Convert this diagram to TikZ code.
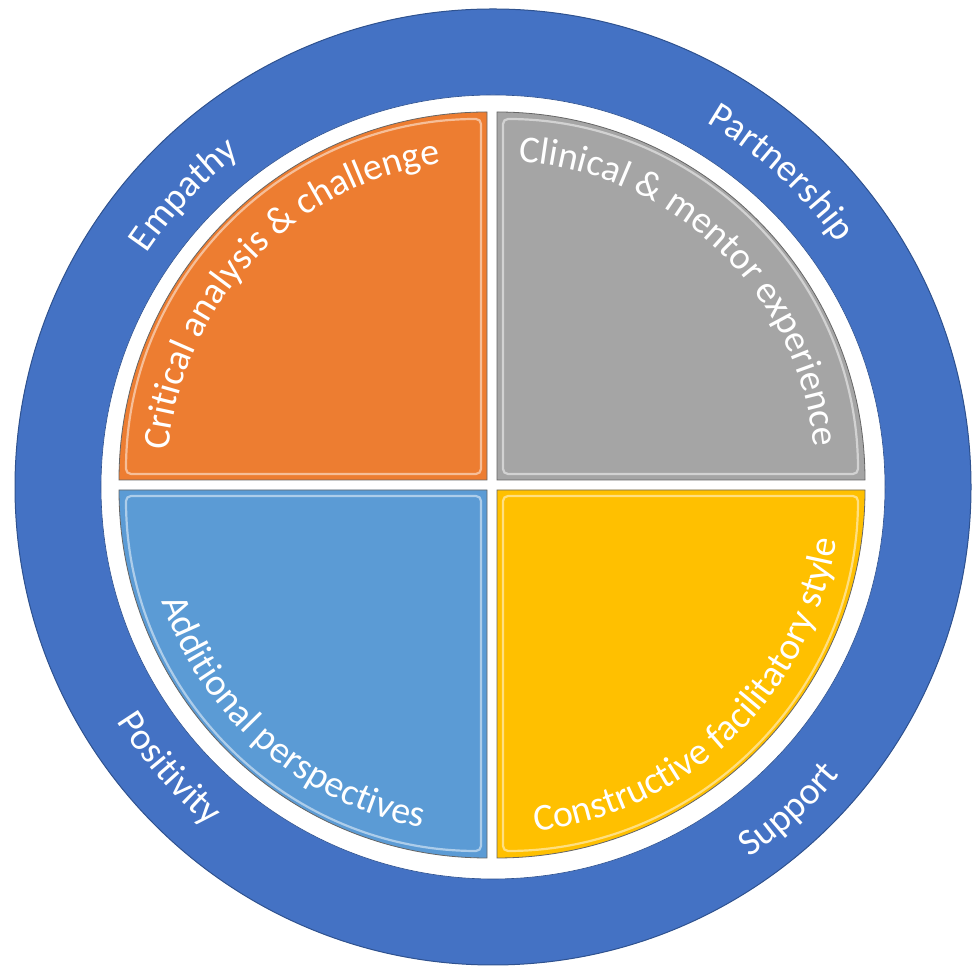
\documentclass[tikz,border=0pt]{standalone}
\usepackage{fontspec}
\setmainfont{Carlito}
\usetikzlibrary{decorations.text,calc}
\definecolor{ringblue}{HTML}{4472C4}
\definecolor{ringedge}{HTML}{2F528F}
\definecolor{qorange}{HTML}{ED7D31}
\definecolor{qgray}{HTML}{A5A5A5}
\definecolor{qblue}{HTML}{5B9BD5}
\definecolor{qyellow}{HTML}{FFC000}
\newcommand\lblfont{\fontsize{38}{40}\selectfont}
\begin{document}
\begin{tikzpicture}[x=1pt,y=1pt,
  quad/.style={draw=black!60, line width=0.8pt},
  bevel/.style={draw=white, opacity=0.5, line width=2.2pt, rounded corners=5pt},
  arctext/.style={decorate, decoration={text along path, text align=center, text color=white, text={|\lblfont|#1}}}
]
\useasboundingbox (0,0) rectangle (975,968);
\coordinate (C) at (493,481);
\coordinate (O1) at (487,488);
\coordinate (O2) at (497,488);
\coordinate (O3) at (487,478);
\coordinate (O4) at (497,478);
% ring
\fill[ringblue, draw=ringedge, line width=1pt] (C) circle (478);
\fill[white, draw=ringedge, line width=0.6pt] (C) circle (392);
% quadrants
\path[quad, fill=qorange] (O1) -- ++(-368,0) arc (180:90:368) -- cycle;
\path[quad, fill=qgray]   (O2) -- ++(0,368) arc (90:0:368) -- cycle;
\path[quad, fill=qblue]   (O3) -- ++(-368,0) arc (180:270:368) -- cycle;
\path[quad, fill=qyellow] (O4) -- ++(0,-368) arc (270:360:368) -- cycle;
% bevel highlights
\path[bevel] ($(O1)+(-6,6)$) -- ++(-355,0) arc (180:90:355) -- cycle;
\path[bevel] ($(O2)+(6,6)$) -- ++(0,355) arc (90:0:355) -- cycle;
\path[bevel] ($(O3)+(-6,-6)$) -- ++(-355,0) arc (180:270:355) -- cycle;
\path[bevel] ($(O4)+(6,-6)$) -- ++(0,-355) arc (270:360:355) -- cycle;
% quadrant labels
\path[arctext={Critical analysis {\&} challenge}] ($(O1)+(196.5:320)$) arc (196.5:76.5:320);
\path[arctext={Clinical {\&} mentor experience}] ($(O2)+(106:319)$) arc (106:-14:319);
\path[arctext={Additional perspectives}] ($(O3)+(169:344)$) arc (169:289:344);
\path[arctext={Constructive facilitatory style}] ($(O4)+(254:343)$) arc (254:374:343);
% ring labels
\path[arctext={Empathy}] ($(C)+(166.6:418)$) arc (166.6:106.6:418);
\path[arctext={Partnership}] ($(C)+(77.5:422)$) arc (77.5:17.5:422);
\path[arctext={Positivity}] ($(C)+(191:443)$) arc (191:251:443);
\path[arctext={Support}] ($(C)+(282.5:451)$) arc (282.5:342.5:451);
\end{tikzpicture}
\end{document}
